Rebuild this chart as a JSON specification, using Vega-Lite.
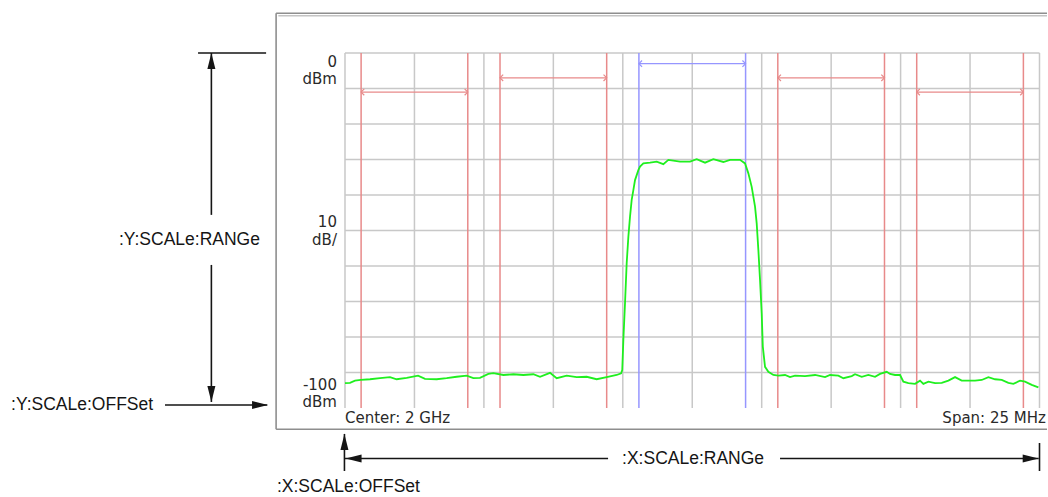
{
  "$schema": "https://vega.github.io/schema/vega-lite/v6.json",
  "width": 1048,
  "height": 497,
  "autosize": {"type": "none"},
  "padding": 0,
  "background": "white",
  "config": {"view": {"stroke": null}},
  "datasets": {
    "trace": [
      {"f":-12.50,"d":-93.0},{"f":-12.32,"d":-92.9},{"f":-12.14,"d":-92.3},{"f":-11.93,"d":-92.1},{"f":-11.60,"d":-91.9},{"f":-11.24,"d":-91.6},{"f":-10.88,"d":-91.3},{"f":-10.64,"d":-91.9},{"f":-10.28,"d":-91.5},{"f":-9.87,"d":-90.9},{"f":-9.62,"d":-91.8},{"f":-9.20,"d":-91.9},{"f":-8.84,"d":-91.6},{"f":-8.48,"d":-91.2},{"f":-8.12,"d":-90.9},{"f":-7.88,"d":-91.6},{"f":-7.64,"d":-91.5},{"f":-7.34,"d":-90.4},{"f":-7.16,"d":-90.2},{"f":-6.80,"d":-90.7},{"f":-6.44,"d":-90.5},{"f":-6.08,"d":-90.7},{"f":-5.72,"d":-90.5},{"f":-5.48,"d":-91.2},{"f":-5.12,"d":-90.1},{"f":-4.88,"d":-91.6},{"f":-4.52,"d":-90.9},{"f":-4.16,"d":-91.3},{"f":-3.80,"d":-91.2},{"f":-3.44,"d":-91.9},{"f":-3.08,"d":-91.3},{"f":-2.72,"d":-90.7},{"f":-2.56,"d":-90.2},{"f":-2.52,"d":-89.3},{"f":-2.48,"d":-80.8},{"f":-2.42,"d":-70.4},{"f":-2.36,"d":-59.2},{"f":-2.30,"d":-51.8},{"f":-2.24,"d":-46.1},{"f":-2.18,"d":-41.4},{"f":-2.12,"d":-38.6},{"f":-2.06,"d":-35.8},{"f":-2.00,"d":-34.4},{"f":-1.94,"d":-33.0},{"f":-1.88,"d":-32.0},{"f":-1.76,"d":-31.1},{"f":-1.52,"d":-30.9},{"f":-1.28,"d":-30.6},{"f":-1.04,"d":-31.3},{"f":-0.86,"d":-30.1},{"f":-0.44,"d":-30.6},{"f":-0.08,"d":-30.6},{"f":0.16,"d":-29.9},{"f":0.46,"d":-30.9},{"f":0.76,"d":-29.9},{"f":1.12,"d":-30.7},{"f":1.36,"d":-30.1},{"f":1.72,"d":-30.1},{"f":1.90,"d":-31.1},{"f":2.02,"d":-33.9},{"f":2.14,"d":-37.7},{"f":2.26,"d":-43.3},{"f":2.32,"d":-48.0},{"f":2.38,"d":-55.5},{"f":2.44,"d":-63.9},{"f":2.50,"d":-73.3},{"f":2.54,"d":-82.7},{"f":2.62,"d":-88.4},{"f":2.74,"d":-89.8},{"f":2.92,"d":-90.7},{"f":3.10,"d":-90.9},{"f":3.34,"d":-90.7},{"f":3.52,"d":-91.3},{"f":3.70,"d":-90.9},{"f":4.06,"d":-91.0},{"f":4.42,"d":-90.7},{"f":4.78,"d":-91.3},{"f":4.96,"d":-90.7},{"f":5.26,"d":-90.9},{"f":5.44,"d":-91.6},{"f":5.74,"d":-91.0},{"f":5.86,"d":-90.5},{"f":6.10,"d":-91.2},{"f":6.34,"d":-90.7},{"f":6.58,"d":-91.2},{"f":6.76,"d":-90.4},{"f":7.00,"d":-89.8},{"f":7.12,"d":-90.4},{"f":7.30,"d":-90.7},{"f":7.48,"d":-90.7},{"f":7.60,"d":-92.6},{"f":7.78,"d":-93.0},{"f":8.02,"d":-93.2},{"f":8.20,"d":-92.3},{"f":8.32,"d":-93.2},{"f":8.50,"d":-92.6},{"f":8.74,"d":-93.0},{"f":8.98,"d":-92.9},{"f":9.22,"d":-92.3},{"f":9.46,"d":-91.3},{"f":9.70,"d":-92.3},{"f":9.94,"d":-92.3},{"f":10.18,"d":-92.3},{"f":10.42,"d":-92.1},{"f":10.66,"d":-91.3},{"f":10.90,"d":-91.9},{"f":11.14,"d":-92.1},{"f":11.38,"d":-92.9},{"f":11.56,"d":-93.2},{"f":11.80,"d":-92.3},{"f":11.98,"d":-92.6},{"f":12.22,"d":-93.5},{"f":12.46,"d":-94.2}
    ],
    "hgrid": [{"d":0},{"d":-10},{"d":-20},{"d":-30},{"d":-40},{"d":-50},{"d":-60},{"d":-70},{"d":-80},{"d":-90}],
    "vgrid": [{"f":-12.5},{"f":-10},{"f":-7.5},{"f":-5},{"f":-2.5},{"f":0},{"f":2.5},{"f":5},{"f":7.5},{"f":10},{"f":12.5}],
    "bands": [
      {"lo":-11.92,"hi":-8.08,"d":-11,"kind":"alt"},
      {"lo":-6.92,"hi":-3.08,"d":-7,"kind":"adj"},
      {"lo":-1.92,"hi":1.92,"d":-3,"kind":"main"},
      {"lo":3.08,"hi":6.92,"d":-7,"kind":"adj"},
      {"lo":8.08,"hi":11.92,"d":-11,"kind":"alt"}
    ],
    "frame": [
      {"f":-14.98,"f2":12.77,"d":11.18,"d2":11.18},
      {"f":-14.98,"f2":-14.98,"d":11.18,"d2":-106.0},
      {"f":-14.98,"f2":12.77,"d":-106.0,"d2":-106.0}
    ],
    "frame2": [{"f":-14.9,"f2":12.77,"d":10.5,"d2":10.5}],
    "ylabels": [
      {"f":-12.79,"d":-2.5,"t":"0"},{"f":-12.79,"d":-7.3,"t":"dBm"},
      {"f":-12.79,"d":-47.6,"t":"10"},{"f":-12.79,"d":-52.7,"t":"dB/"},
      {"f":-12.79,"d":-93.5,"t":"-100"},{"f":-12.79,"d":-98.3,"t":"dBm"}
    ],
    "bottomleft": [{"f":-12.5,"d":-102.8,"t":"Center: 2 GHz"}],
    "bottomright": [{"f":12.73,"d":-102.8,"t":"Span: 25 MHz"}],
    "annlines": [
      {"f":-17.79,"f2":-15.34,"d":0,"d2":0},
      {"f":-17.31,"f2":-17.31,"d":0,"d2":-45.6},
      {"f":-17.31,"f2":-17.31,"d":-59.7,"d2":-98.3},
      {"f":-18.98,"f2":-15.3,"d":-99.15,"d2":-99.15},
      {"f":-12.52,"f2":-12.52,"d":-107.3,"d2":-117.75},
      {"f":-12.5,"f2":-3.03,"d":-114.23,"d2":-114.23},
      {"f":3.16,"f2":12.47,"d":-114.23,"d2":-114.23},
      {"f":12.5,"f2":12.5,"d":-109.86,"d2":-117.75}
    ],
    "annheads": [
      {"f":-17.31,"d":0,"dir":"up"},
      {"f":-17.31,"d":-98.3,"dir":"down"},
      {"f":-15.27,"d":-99.15,"dir":"right"},
      {"f":-12.52,"d":-107.3,"dir":"up"},
      {"f":-12.48,"d":-114.23,"dir":"left"},
      {"f":12.47,"d":-114.23,"dir":"right"}
    ],
    "anntextleft": [
      {"f":-24.52,"d":-99.15,"t":":Y:SCALe:OFFSet"},
      {"f":-14.95,"d":-122.25,"t":":X:SCALe:OFFSet"}
    ],
    "anntextcenter": [
      {"f":-18.1,"d":-52.7,"t":":Y:SCALe:RANGe"},
      {"f":0.03,"d":-114.23,"t":":X:SCALe:RANGe"}
    ]
  },
  "layer": [
    {
      "data": {"name": "frame"},
      "mark": {"type": "rule", "color": "#8e8e8e", "strokeWidth": 1.6},
      "encoding": {
        "x": {"field": "f", "type": "quantitative", "scale": {"domain": [-24.919, 12.806], "nice": false, "zero": false}, "axis": null},
        "x2": {"field": "f2"},
        "y": {"field": "d", "type": "quantitative", "scale": {"domain": [-125.07, 14.93], "nice": false, "zero": false}, "axis": null},
        "y2": {"field": "d2"}
      }
    },
    {
      "data": {"name": "frame2"},
      "mark": {"type": "rule", "color": "#c4c4c4", "strokeWidth": 1.4},
      "encoding": {
        "x": {"field": "f", "type": "quantitative"},
        "x2": {"field": "f2"},
        "y": {"field": "d", "type": "quantitative"},
        "y2": {"field": "d2"}
      }
    },
    {
      "data": {"name": "hgrid"},
      "mark": {"type": "rule", "color": "#c8c8c8", "strokeWidth": 1.5},
      "encoding": {
        "x": {"datum": -12.5, "type": "quantitative"},
        "x2": {"datum": 12.5},
        "y": {"field": "d", "type": "quantitative"}
      }
    },
    {
      "data": {"name": "vgrid"},
      "mark": {"type": "rule", "color": "#c8c8c8", "strokeWidth": 1.5},
      "encoding": {
        "x": {"field": "f", "type": "quantitative"},
        "y": {"datum": 0, "type": "quantitative"},
        "y2": {"datum": -100}
      }
    },
    {
      "data": {"name": "bands"},
      "mark": {"type": "rule", "strokeWidth": 1.5},
      "encoding": {
        "x": {"field": "lo", "type": "quantitative"},
        "y": {"datum": 0, "type": "quantitative"},
        "y2": {"datum": -100},
        "color": {"field": "kind", "type": "nominal", "scale": {"domain": ["main", "adj", "alt"], "range": ["#9696ff", "#e88a8a", "#e88a8a"]}, "legend": null}
      }
    },
    {
      "data": {"name": "bands"},
      "mark": {"type": "rule", "strokeWidth": 1.5},
      "encoding": {
        "x": {"field": "hi", "type": "quantitative"},
        "y": {"datum": 0, "type": "quantitative"},
        "y2": {"datum": -100},
        "color": {"field": "kind", "type": "nominal", "legend": null}
      }
    },
    {
      "data": {"name": "bands"},
      "mark": {"type": "rule", "strokeWidth": 1.3},
      "encoding": {
        "x": {"field": "lo", "type": "quantitative"},
        "x2": {"field": "hi"},
        "y": {"field": "d", "type": "quantitative"},
        "color": {"field": "kind", "type": "nominal", "legend": null}
      }
    },
    {
      "data": {"name": "bands"},
      "mark": {"type": "point", "shape": "M1,-1L0,0L1,1", "filled": false, "size": 40, "strokeWidth": 1.2, "opacity": 1},
      "encoding": {
        "x": {"field": "lo", "type": "quantitative"},
        "y": {"field": "d", "type": "quantitative"},
        "color": {"field": "kind", "type": "nominal", "legend": null}
      }
    },
    {
      "data": {"name": "bands"},
      "mark": {"type": "point", "shape": "M-1,-1L0,0L-1,1", "filled": false, "size": 40, "strokeWidth": 1.2, "opacity": 1},
      "encoding": {
        "x": {"field": "hi", "type": "quantitative"},
        "y": {"field": "d", "type": "quantitative"},
        "color": {"field": "kind", "type": "nominal", "legend": null}
      }
    },
    {
      "data": {"name": "ylabels"},
      "mark": {"type": "text", "align": "right", "baseline": "middle", "font": "DejaVu Sans", "fontSize": 15, "color": "#2a2a2a"},
      "encoding": {
        "x": {"field": "f", "type": "quantitative"},
        "y": {"field": "d", "type": "quantitative"},
        "text": {"field": "t"}
      }
    },
    {
      "data": {"name": "bottomleft"},
      "mark": {"type": "text", "align": "left", "baseline": "middle", "font": "DejaVu Sans", "fontSize": 15, "color": "#2a2a2a"},
      "encoding": {
        "x": {"field": "f", "type": "quantitative"},
        "y": {"field": "d", "type": "quantitative"},
        "text": {"field": "t"}
      }
    },
    {
      "data": {"name": "bottomright"},
      "mark": {"type": "text", "align": "right", "baseline": "middle", "font": "DejaVu Sans", "fontSize": 15, "color": "#2a2a2a"},
      "encoding": {
        "x": {"field": "f", "type": "quantitative"},
        "y": {"field": "d", "type": "quantitative"},
        "text": {"field": "t"}
      }
    },
    {
      "data": {"name": "trace"},
      "mark": {"type": "line", "color": "#1fef1f", "strokeWidth": 1.8},
      "encoding": {
        "x": {"field": "f", "type": "quantitative"},
        "y": {"field": "d", "type": "quantitative"}
      }
    },
    {
      "data": {"name": "annlines"},
      "mark": {"type": "rule", "color": "#151515", "strokeWidth": 1.6},
      "encoding": {
        "x": {"field": "f", "type": "quantitative"},
        "x2": {"field": "f2"},
        "y": {"field": "d", "type": "quantitative"},
        "y2": {"field": "d2"}
      }
    },
    {
      "data": {"name": "annheads"},
      "mark": {"type": "point", "filled": true, "size": 256, "color": "#151515", "opacity": 1},
      "encoding": {
        "x": {"field": "f", "type": "quantitative"},
        "y": {"field": "d", "type": "quantitative"},
        "shape": {"field": "dir", "type": "nominal", "scale": {"domain": ["up", "down", "left", "right"], "range": ["M0,0L-0.5,2L0.5,2Z", "M0,0L-0.5,-2L0.5,-2Z", "M0,0L2,-0.5L2,0.5Z", "M0,0L-2,-0.5L-2,0.5Z"]}, "legend": null}
      }
    },
    {
      "data": {"name": "anntextleft"},
      "mark": {"type": "text", "align": "left", "baseline": "middle", "font": "Liberation Sans", "fontSize": 17.5, "color": "#151515"},
      "encoding": {
        "x": {"field": "f", "type": "quantitative"},
        "y": {"field": "d", "type": "quantitative"},
        "text": {"field": "t"}
      }
    },
    {
      "data": {"name": "anntextcenter"},
      "mark": {"type": "text", "align": "center", "baseline": "middle", "font": "Liberation Sans", "fontSize": 17.5, "color": "#151515"},
      "encoding": {
        "x": {"field": "f", "type": "quantitative"},
        "y": {"field": "d", "type": "quantitative"},
        "text": {"field": "t"}
      }
    }
  ]
}
